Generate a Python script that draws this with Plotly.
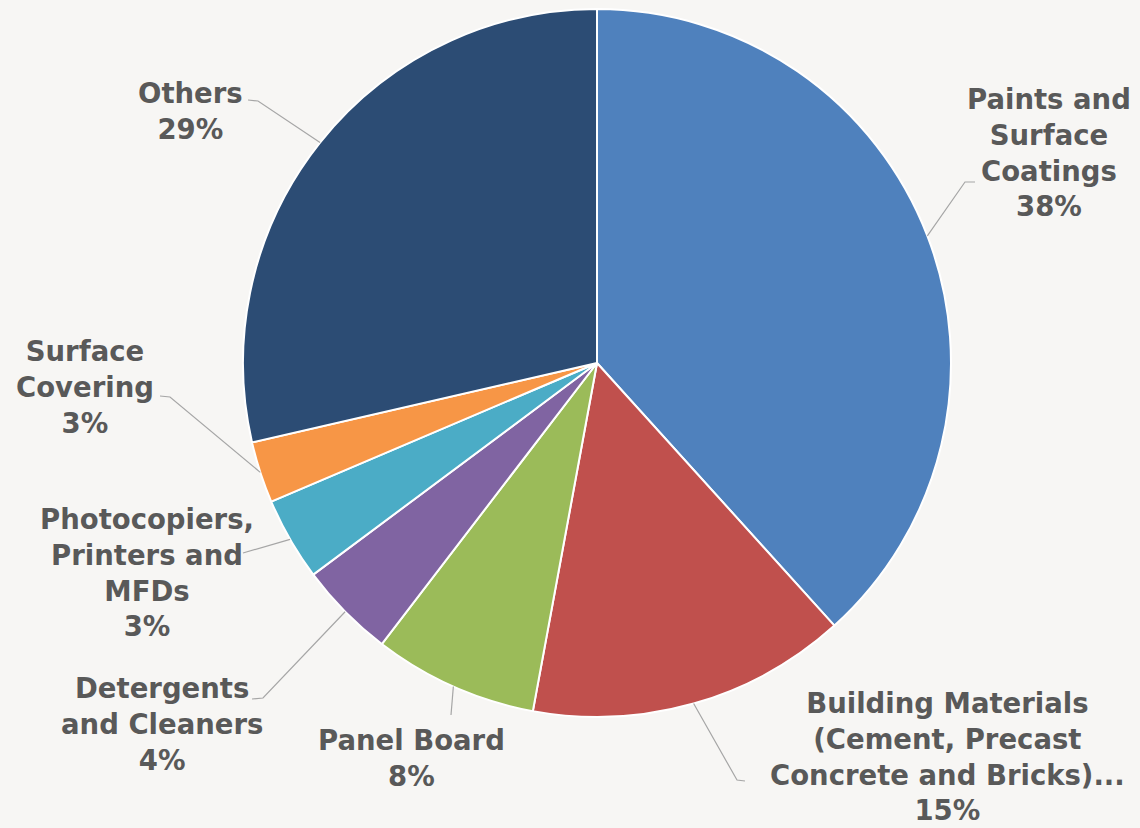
import math
import plotly.graph_objects as go

# ---- data ----
categories = ["Paints and Surface Coatings",
              "Building Materials (Cement, Precast Concrete and Bricks)...",
              "Panel Board", "Detergents and Cleaners",
              "Photocopiers, Printers and MFDs", "Surface Covering", "Others"]
values = [38.3, 14.6, 7.5, 4.4, 3.8, 2.8, 28.6]
label_texts = ["Paints and<br>Surface<br>Coatings<br>38%",
               "Building Materials<br>(Cement, Precast<br>Concrete and Bricks)...<br>15%",
               "Panel Board<br>8%",
               "Detergents<br>and Cleaners<br>4%",
               "Photocopiers,<br>Printers and<br>MFDs<br>3%",
               "Surface<br>Covering<br>3%",
               "Others<br>29%"]
colors = ["#4f81bd", "#c0504d", "#9bbb59", "#8064a2", "#4bacc6", "#f79646", "#2c4c74"]

# ---- layout geometry (pixels) ----
W, H = 1140, 828
CX, CY, R = 597, 363, 354
BG = "#f7f6f4"
label_pos = [(1049, 153), (947, 756), (411, 758), (162, 724), (147, 572), (85, 387), (190, 111)]
leader_knees = [[(965, 182), (975, 182)],
                [(737, 780), (745, 781)],
                [(451, 715)],
                [(263, 698), (252, 699)],
                [(243, 553)],
                [(170, 397), (160, 396)],
                [(258, 101), (248, 100)]]

def px(x):
    return x / W

def py(y):
    return 1 - y / H

fig = go.Figure(go.Pie(
    labels=categories, values=values, sort=False, direction="clockwise", rotation=0,
    marker=dict(colors=colors, line=dict(color="white", width=2)),
    textinfo="none", hoverinfo="label+percent", showlegend=False,
    domain=dict(x=[px(CX - R), px(CX + R)], y=[py(CY + R), py(CY - R)]),
))

total = sum(values)
cum = 0
font = dict(family="DejaVu Sans", size=27.5, color="#595959")
for i, v in enumerate(values):
    mid = (cum + v / 2) / total * 2 * math.pi
    cum += v
    sx = CX + R * math.sin(mid)
    sy = CY - R * math.cos(mid)
    pts = [(sx, sy)] + leader_knees[i]
    path = "M " + " L ".join(f"{px(x)},{py(y)}" for x, y in pts)
    fig.add_shape(type="path", path=path, xref="paper", yref="paper",
                  line=dict(color="#a6a6a6", width=1.2))
    lx, ly = label_pos[i]
    fig.add_annotation(x=px(lx), y=py(ly), xref="paper", yref="paper",
                       text="<b>" + label_texts[i] + "</b>", showarrow=False,
                       xanchor="center", yanchor="middle", align="center", font=font)

fig.update_layout(width=W, height=H, margin=dict(l=0, r=0, t=0, b=0),
                  paper_bgcolor=BG, plot_bgcolor=BG)
fig.write_html("out.html", config={"displayModeBar": False},
               post_script=("document.body.style.margin='0';"
                            "document.body.style.overflow='hidden';"
                            f"document.body.style.background='{BG}';"))
